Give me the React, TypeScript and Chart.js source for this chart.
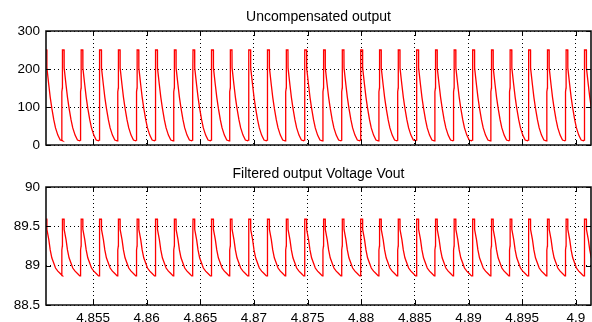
import React, { useEffect, useRef } from "react";
import { Chart, registerables } from "chart.js";

Chart.register(...registerables);

// Time (s) at which each switching cycle rises
const riseTimes = [
  4.85047, 4.852078, 4.853824, 4.85556, 4.857297, 4.859042, 4.860779, 4.862515,
  4.864251, 4.865997, 4.867733, 4.86947, 4.871215, 4.872952, 4.874688, 4.876425,
  4.87817, 4.879907, 4.881643, 4.883389, 4.885125, 4.886862, 4.888598, 4.890344,
  4.89208, 4.893816, 4.895562, 4.897298, 4.899035, 4.900771,
];

// Sample instants inside one cycle (ms after the rise)
const cycleOffsetsMs = [0, 0.0093, 0.056, 0.065, 0.215, 0.224, 0.401, 0.532, 0.681, 0.868, 1.027, 1.242, 1.466, 1.68];
// Uncompensated output values at those instants
const uncompensatedCycle = [13, 140, 150, 250, 250, 203, 158, 126, 97, 66, 45, 26, 13, 11];
// Filtered output voltage at those instants
const filteredCycle = [88.87, 89.2, 89.25, 89.59, 89.59, 89.46, 89.33, 89.2, 89.1, 89.03, 88.97, 88.93, 88.9, 88.87];

const xTicks = [4.855, 4.86, 4.865, 4.87, 4.875, 4.88, 4.885, 4.89, 4.895, 4.9];
const topYTicks = [0, 100, 200, 300];
const bottomYTicks = [88.5, 89, 89.5, 90];
const X_MIN = 4.85061;
const X_MAX = 4.90142;

const FONT_FAMILY = "'Liberation Sans', Arial, sans-serif";

function buildSeries(values: number[]) {
  const pts: { x: number; y: number }[] = [];
  riseTimes.forEach((r) => {
    cycleOffsetsMs.forEach((o, i) => {
      pts.push({ x: r + o / 1000, y: values[i] });
    });
  });
  return pts;
}

function fmt(v: number) {
  return String(Number(v.toFixed(3)));
}

type PanelProps = {
  title: string;
  titleY: number;
  values: number[];
  yTicks: number[];
  showX: boolean;
  top: number;
  height: number;
  padTop: number;
  padBottom: number;
};

function Panel({ title, titleY, values, yTicks, showX, top, height, padTop, padBottom }: PanelProps) {
  const ref = useRef<HTMLCanvasElement>(null);
  useEffect(() => {
    if (!ref.current) return;
    const boxPlugin = {
      id: "matlabBox",
      afterDraw(chart: any) {
        const { ctx, chartArea } = chart;
        const { left, right, top: t, bottom } = chartArea;
        ctx.save();
        // title
        ctx.fillStyle = "#000";
        ctx.font = `14px ${FONT_FAMILY}`;
        ctx.textAlign = "center";
        ctx.textBaseline = "middle";
        ctx.fillText(title, (left + right) / 2, titleY);
        // box
        ctx.strokeStyle = "#111";
        ctx.lineWidth = 1.6;
        ctx.beginPath();
        ctx.rect(left, t, right - left, bottom - t);
        ctx.stroke();
        // inward ticks
        ctx.lineWidth = 1;
        ctx.strokeStyle = "#000";
        const xs = chart.scales.x;
        const ys = chart.scales.y;
        const L = 5;
        ctx.beginPath();
        xTicks.forEach((v) => {
          const px = Math.round(xs.getPixelForValue(v)) + 0.5;
          ctx.moveTo(px, bottom);
          ctx.lineTo(px, bottom - L);
          ctx.moveTo(px, t);
          ctx.lineTo(px, t + L);
        });
        yTicks.forEach((v) => {
          const py = Math.round(ys.getPixelForValue(v)) + 0.5;
          ctx.moveTo(left, py);
          ctx.lineTo(left + L, py);
          ctx.moveTo(right, py);
          ctx.lineTo(right - L, py);
        });
        ctx.stroke();
        ctx.restore();
      },
    };
    const chart = new Chart(ref.current, {
      type: "line",
      data: {
        datasets: [
          {
            data: buildSeries(values),
            borderColor: "#ff0000",
            borderWidth: 1.3,
            pointRadius: 0,
            tension: 0,
            fill: false,
          },
        ],
      },
      options: {
        animation: false,
        responsive: false,
        maintainAspectRatio: false,
        devicePixelRatio: 1,
        layout: { padding: { top: padTop, bottom: padBottom, left: 0, right: 1 } },
        plugins: { legend: { display: false }, tooltip: { enabled: false }, title: { display: false } },
        scales: {
          x: {
            type: "linear",
            min: X_MIN,
            max: X_MAX,
            afterBuildTicks: (s: any) => {
              s.ticks = xTicks.map((v) => ({ value: v }));
            },
            afterFit: (s: any) => {
              s.height = showX ? 17 : 0;
            },
            ticks: {
              display: showX,
              autoSkip: false,
              maxRotation: 0,
              padding: 5,
              color: "#000",
              font: { family: FONT_FAMILY, size: 13.5 },
              callback: (v: any) => fmt(Number(v)),
            },
            grid: { color: "#000", lineWidth: 1, drawTicks: false },
            border: { display: false, dash: [1, 3] },
          },
          y: {
            type: "linear",
            min: yTicks[0],
            max: yTicks[yTicks.length - 1],
            afterBuildTicks: (s: any) => {
              s.ticks = yTicks.map((v) => ({ value: v }));
            },
            afterFit: (s: any) => {
              s.width = 46;
            },
            ticks: {
              padding: 6,
              color: "#000",
              font: { family: FONT_FAMILY, size: 13.5 },
              callback: (v: any) => fmt(Number(v)),
            },
            grid: { color: "#000", lineWidth: 1, drawTicks: false },
            border: { display: false, dash: [1, 3] },
          },
        },
      } as any,
      plugins: [boxPlugin],
    });
    return () => chart.destroy();
  }, []);
  return (
    <canvas
      ref={ref}
      width={592}
      height={height}
      style={{ position: "absolute", left: 0, top, width: 592, height, display: "block" }}
    />
  );
}

export default function App() {
  return (
    <div style={{ position: "absolute", left: 0, top: 0, width: 592, height: 322, background: "#fff" }}>
      <Panel
        title="Uncompensated output"
        titleY={17.5}
        values={uncompensatedCycle}
        yTicks={topYTicks}
        showX={false}
        top={0}
        height={160}
        padTop={31}
        padBottom={15}
      />
      <Panel
        title="Filtered output Voltage Vout"
        titleY={14}
        values={filteredCycle}
        yTicks={bottomYTicks}
        showX={true}
        top={160}
        height={162}
        padTop={27}
        padBottom={0}
      />
    </div>
  );
}
